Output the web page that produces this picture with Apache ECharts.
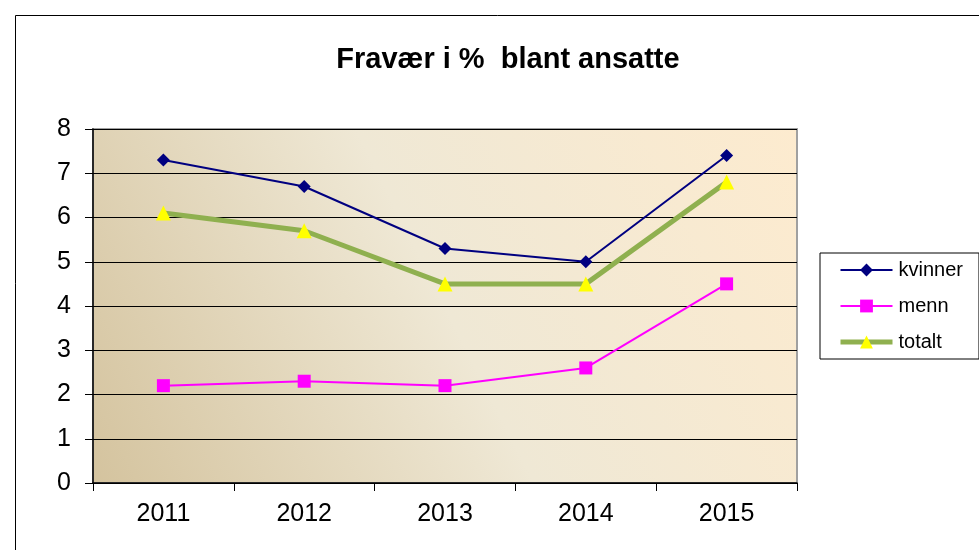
<!DOCTYPE html>
<html>
<head>
<meta charset="utf-8">
<script src="https://cdn.jsdelivr.net/npm/echarts@6/dist/echarts.min.js"></script>
<style>
  html, body { margin: 0; padding: 0; background: #fff; }
  #main { width: 979px; height: 550px; }
</style>
</head>
<body>
<div id="main"></div>
<script>
var years = ['2011', '2012', '2013', '2014', '2015'];
var kvinner = [7.3, 6.7, 5.3, 5.0, 7.4];
var menn = [2.2, 2.3, 2.2, 2.6, 4.5];
var totalt = [6.1, 5.7, 4.5, 4.5, 6.8];

var myChart = echarts.init(document.getElementById('main'));

myChart.setOption({
  animation: false,
  textStyle: { fontFamily: 'Liberation Sans, Arial, sans-serif' },
  title: {
    text: 'Fravær i %  blant ansatte',
    left: 503,
    textAlign: 'center',
    top: 40,
    textStyle: { fontSize: 29, fontWeight: 'bold', color: '#000' }
  },
  graphic: [{
    type: 'rect',
    shape: { x: 15.5, y: 15.5, width: 1000, height: 600 },
    style: { fill: null, stroke: '#000', lineWidth: 1 },
    z: -1
  }],
  legend: {
    orient: 'vertical',
    left: 820,
    top: 253,
    itemWidth: 52,
    itemHeight: 16,
    itemGap: 16,
    padding: [7, 16, 7, 18],
    borderColor: '#000',
    borderWidth: 1,
    textStyle: { fontSize: 20, color: '#000', padding: [0, 0, 0, 1] },
    data: [
      { name: 'kvinner' },
      { name: 'menn' },
      { name: 'totalt', lineStyle: { width: 5 } }
    ]
  },
  grid: {
    left: 93,
    top: 129,
    width: 704,
    height: 354,
    show: true,
    borderColor: '#a0a0a0',
    borderWidth: 2,
    backgroundColor: {
      type: 'linear', x: 0, y: 1, x2: 1, y2: 0,
      colorStops: [
        { offset: 0, color: '#d4c39e' },
        { offset: 0.5, color: '#efe8d5' },
        { offset: 1, color: '#fdebcf' }
      ]
    }
  },
  xAxis: {
    type: 'category',
    data: years,
    boundaryGap: true,
    axisLine: { show: true, lineStyle: { color: '#000', width: 1.5 } },
    axisTick: { show: true, length: 8, lineStyle: { color: '#000' } },
    axisLabel: { fontSize: 25, color: '#000', margin: 19 }
  },
  yAxis: {
    type: 'value',
    min: 0,
    max: 8,
    interval: 1,
    axisLine: { show: true, lineStyle: { color: '#000', width: 1.5 } },
    axisTick: { show: true, length: 8, lineStyle: { color: '#000' } },
    axisLabel: { fontSize: 25, color: '#000', margin: 22 },
    splitLine: { show: true, lineStyle: { color: '#000', width: 1 } }
  },
  series: [
    {
      name: 'kvinner',
      type: 'line',
      data: kvinner,
      symbol: 'diamond',
      symbolSize: 13,
      itemStyle: { color: '#000080' },
      lineStyle: { color: '#000080', width: 2 },
      z: 3
    },
    {
      name: 'menn',
      type: 'line',
      data: menn,
      symbol: 'rect',
      symbolSize: 13,
      itemStyle: { color: '#ff00ff' },
      lineStyle: { color: '#ff00ff', width: 2 },
      z: 3
    },
    {
      name: 'totalt',
      type: 'line',
      data: totalt,
      symbol: 'triangle',
      symbolSize: 15,
      itemStyle: { color: '#ffff00' },
      lineStyle: { color: '#8fb04f', width: 5 },
      z: 2
    }
  ]
});
</script>
</body>
</html>
